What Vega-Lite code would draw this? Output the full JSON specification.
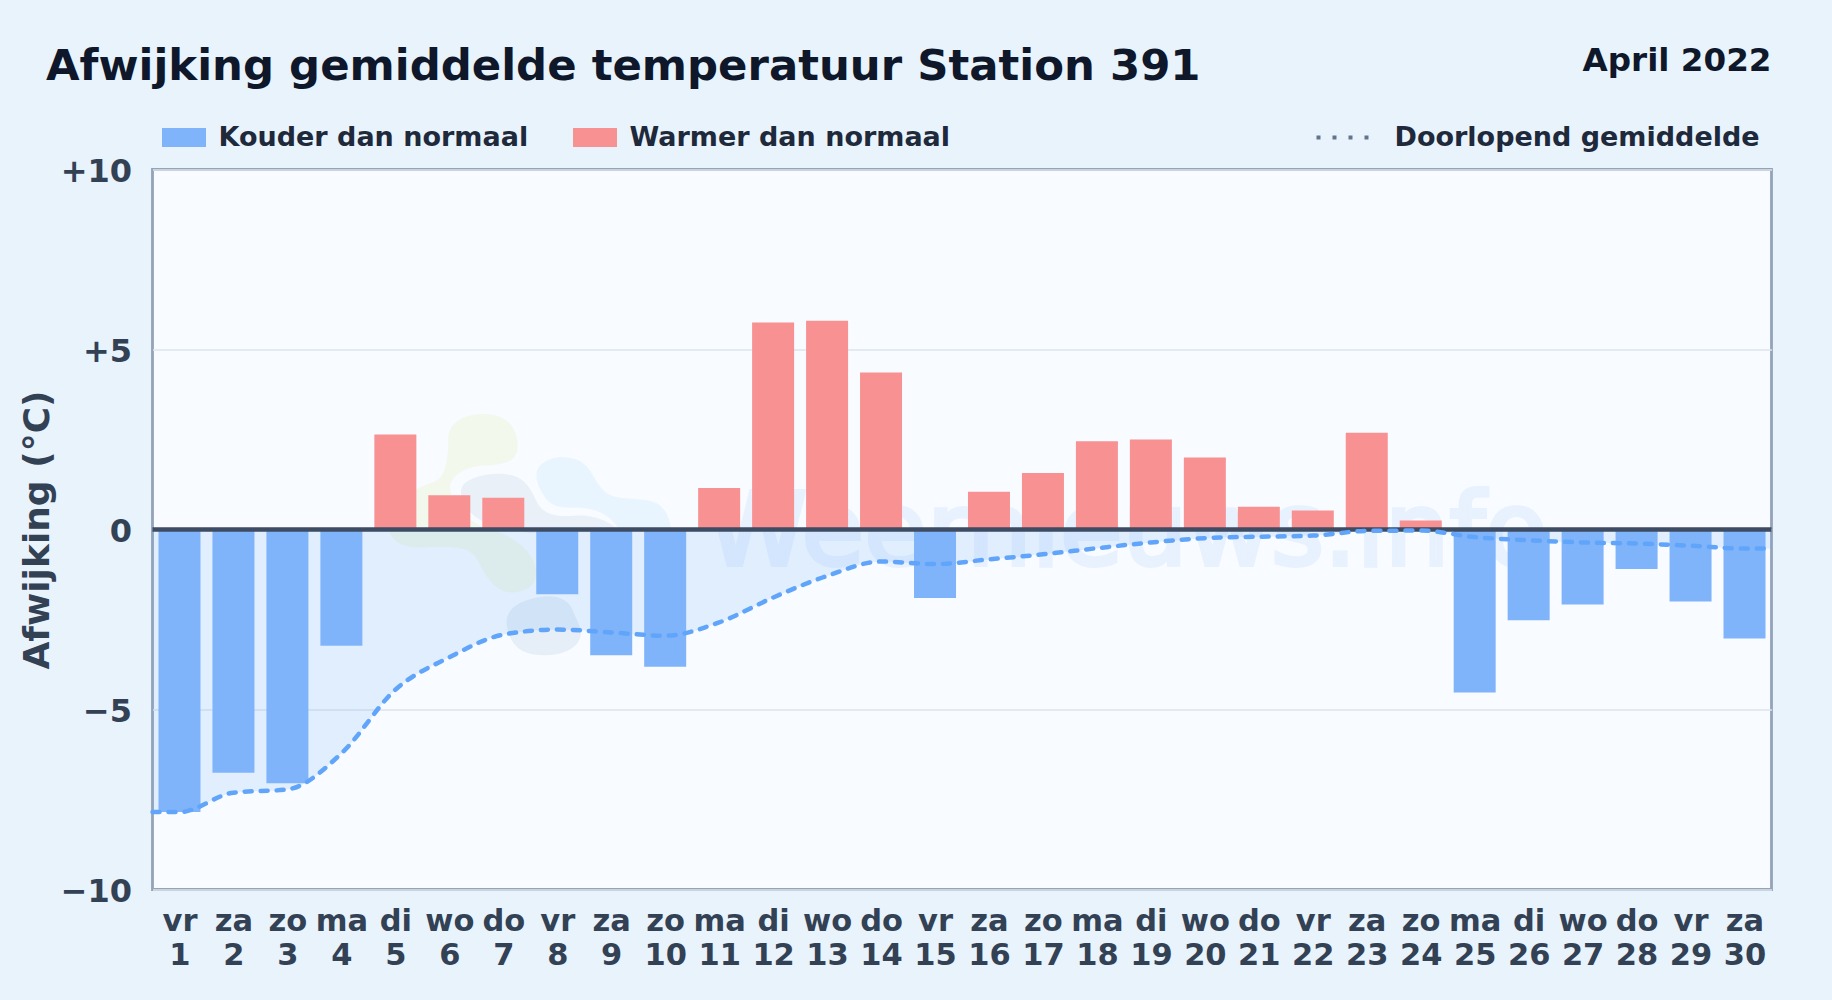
{"$schema":"https://vega.github.io/schema/vega-lite/v6.json","autosize":{"type":"none"},"width":1619,"height":720,"padding":{"left":152.5,"top":169.5,"right":60.5,"bottom":110.5},"background":"#e8f3fc","datasets":{"days":[{"day":1,"dev":-7.85,"kind":"Kouder dan normaal"},{"day":2,"dev":-6.76,"kind":"Kouder dan normaal"},{"day":3,"dev":-7.05,"kind":"Kouder dan normaal"},{"day":4,"dev":-3.23,"kind":"Kouder dan normaal"},{"day":5,"dev":2.64,"kind":"Warmer dan normaal"},{"day":6,"dev":0.95,"kind":"Warmer dan normaal"},{"day":7,"dev":0.88,"kind":"Warmer dan normaal"},{"day":8,"dev":-1.8,"kind":"Kouder dan normaal"},{"day":9,"dev":-3.49,"kind":"Kouder dan normaal"},{"day":10,"dev":-3.81,"kind":"Kouder dan normaal"},{"day":11,"dev":1.15,"kind":"Warmer dan normaal"},{"day":12,"dev":5.75,"kind":"Warmer dan normaal"},{"day":13,"dev":5.8,"kind":"Warmer dan normaal"},{"day":14,"dev":4.36,"kind":"Warmer dan normaal"},{"day":15,"dev":-1.9,"kind":"Kouder dan normaal"},{"day":16,"dev":1.05,"kind":"Warmer dan normaal"},{"day":17,"dev":1.57,"kind":"Warmer dan normaal"},{"day":18,"dev":2.45,"kind":"Warmer dan normaal"},{"day":19,"dev":2.5,"kind":"Warmer dan normaal"},{"day":20,"dev":2.0,"kind":"Warmer dan normaal"},{"day":21,"dev":0.63,"kind":"Warmer dan normaal"},{"day":22,"dev":0.53,"kind":"Warmer dan normaal"},{"day":23,"dev":2.69,"kind":"Warmer dan normaal"},{"day":24,"dev":0.25,"kind":"Warmer dan normaal"},{"day":25,"dev":-4.53,"kind":"Kouder dan normaal"},{"day":26,"dev":-2.52,"kind":"Kouder dan normaal"},{"day":27,"dev":-2.08,"kind":"Kouder dan normaal"},{"day":28,"dev":-1.1,"kind":"Kouder dan normaal"},{"day":29,"dev":-2.0,"kind":"Kouder dan normaal"},{"day":30,"dev":-3.03,"kind":"Kouder dan normaal"}],"running":[{"day":0.5,"mean":-7.85,"series":"Doorlopend gemiddelde"},{"day":1,"mean":-7.85,"series":"Doorlopend gemiddelde"},{"day":2,"mean":-7.31,"series":"Doorlopend gemiddelde"},{"day":3,"mean":-7.22,"series":"Doorlopend gemiddelde"},{"day":4,"mean":-6.22,"series":"Doorlopend gemiddelde"},{"day":5,"mean":-4.45,"series":"Doorlopend gemiddelde"},{"day":6,"mean":-3.55,"series":"Doorlopend gemiddelde"},{"day":7,"mean":-2.92,"series":"Doorlopend gemiddelde"},{"day":8,"mean":-2.78,"series":"Doorlopend gemiddelde"},{"day":9,"mean":-2.86,"series":"Doorlopend gemiddelde"},{"day":10,"mean":-2.95,"series":"Doorlopend gemiddelde"},{"day":11,"mean":-2.58,"series":"Doorlopend gemiddelde"},{"day":12,"mean":-1.89,"series":"Doorlopend gemiddelde"},{"day":13,"mean":-1.29,"series":"Doorlopend gemiddelde"},{"day":14,"mean":-0.89,"series":"Doorlopend gemiddelde"},{"day":15,"mean":-0.96,"series":"Doorlopend gemiddelde"},{"day":16,"mean":-0.83,"series":"Doorlopend gemiddelde"},{"day":17,"mean":-0.69,"series":"Doorlopend gemiddelde"},{"day":18,"mean":-0.52,"series":"Doorlopend gemiddelde"},{"day":19,"mean":-0.36,"series":"Doorlopend gemiddelde"},{"day":20,"mean":-0.24,"series":"Doorlopend gemiddelde"},{"day":21,"mean":-0.2,"series":"Doorlopend gemiddelde"},{"day":22,"mean":-0.17,"series":"Doorlopend gemiddelde"},{"day":23,"mean":-0.04,"series":"Doorlopend gemiddelde"},{"day":24,"mean":-0.03,"series":"Doorlopend gemiddelde"},{"day":25,"mean":-0.21,"series":"Doorlopend gemiddelde"},{"day":26,"mean":-0.3,"series":"Doorlopend gemiddelde"},{"day":27,"mean":-0.36,"series":"Doorlopend gemiddelde"},{"day":28,"mean":-0.39,"series":"Doorlopend gemiddelde"},{"day":29,"mean":-0.45,"series":"Doorlopend gemiddelde"},{"day":30,"mean":-0.53,"series":"Doorlopend gemiddelde"},{"day":30.5,"mean":-0.53,"series":"Doorlopend gemiddelde"}],"logo":[{"day":4.53,"dev":3.74}]},"title":{"text":"Afwijking gemiddelde temperatuur Station 391","anchor":"start","frame":"group","dx":-106.5,"offset":-44.7,"font":"DejaVu Sans","fontSize":43.4,"fontWeight":"bold","color":"#0f172a"},"config":{"font":"DejaVu Sans","view":{"fill":"#f8fbff","stroke":"#94a3b8","strokeWidth":2.8}},"layer":[{"data":{"name":"logo"},"mark":{"type":"point","filled":true,"size":0.4444,"opacity":1,"fill":"#f2f8ec","shape":"M235 130C235 75 300 55 350 58C420 60 445 110 443 160C440 200 400 210 340 212C290 215 245 240 240 275C240 320 290 380 350 400C420 420 490 460 500 530C500 570 470 595 420 592C370 590 340 530 320 490C300 460 260 450 150 458C90 460 50 430 60 390C70 320 130 280 190 262C225 250 235 200 235 130Z"},"encoding":{"x":{"field":"day","type":"quantitative"},"y":{"field":"dev","type":"quantitative"}}},{"data":{"name":"logo"},"mark":{"type":"point","filled":true,"size":0.4444,"opacity":1,"fill":"#e9f0f8","shape":"M280 270C300 245 370 230 420 240C470 250 485 290 500 320C520 360 560 368 620 362C680 360 730 385 745 410L480 415C400 395 330 390 300 350C275 320 265 290 280 270Z"},"encoding":{"x":{"field":"day","type":"quantitative"},"y":{"field":"dev","type":"quantitative"}}},{"data":{"name":"logo"},"mark":{"type":"point","filled":true,"size":0.4444,"opacity":1,"fill":"#e8f4fe","shape":"M500 235C505 195 570 175 620 195C670 215 670 265 710 295C750 320 820 305 860 325C900 350 905 400 900 410L745 400C720 360 680 340 620 338C570 340 540 335 520 300C505 275 498 260 500 235Z"},"encoding":{"x":{"field":"day","type":"quantitative"},"y":{"field":"dev","type":"quantitative"}}},{"data":{"name":"logo"},"mark":{"type":"point","filled":true,"size":0.4444,"opacity":1,"fill":"#e6eef7","shape":"M410 690C405 640 450 615 520 605C570 600 600 620 610 650C620 680 640 700 630 730C615 770 560 785 500 780C450 775 420 750 410 690Z"},"encoding":{"x":{"field":"day","type":"quantitative"},"y":{"field":"dev","type":"quantitative"}}},{"data":{"values":[{"day":18.56,"dev":-0.98,"text":"Weernieuws.info"}]},"mark":{"type":"text","font":"DejaVu Sans","fontWeight":"normal","fontSize":102,"color":"#3b82f6","stroke":"#3b82f6","strokeWidth":4,"opacity":0.08,"align":"center","baseline":"alphabetic"},"encoding":{"x":{"field":"day","type":"quantitative"},"y":{"field":"dev","type":"quantitative"},"text":{"field":"text"}}},{"data":{"name":"running"},"mark":{"type":"area","interpolate":"monotone","fill":"#60a5fa","opacity":0.15},"encoding":{"x":{"field":"day","type":"quantitative"},"y":{"field":"mean","type":"quantitative"},"y2":{"datum":0}}},{"data":{"name":"days"},"mark":{"type":"bar","width":42},"encoding":{"x":{"field":"day","type":"quantitative","scale":{"domain":[0.5,30.5],"nice":false,"zero":false,"padding":0},"axis":{"values":[1,2,3,4,5,6,7,8,9,10,11,12,13,14,15,16,17,18,19,20,21,22,23,24,25,26,27,28,29,30],"title":null,"grid":false,"ticks":false,"domain":false,"labelAngle":0,"labelFontSize":30.5,"labelFontWeight":"bold","labelColor":"#334155","labelPadding":17,"labelOverlap":false,"labelFlush":false,"labelBound":false,"labelLineHeight":34,"labelExpr":"[['do','vr','za','zo','ma','di','wo'][datum.value%7],''+datum.value]"}},"y":{"field":"dev","type":"quantitative","scale":{"domain":[-10,10],"nice":false},"axis":{"values":[-10,-5,0,5,10],"title":"Afwijking (°C)","titleFontSize":36,"titleFontWeight":"bold","titleColor":"#334155","titlePadding":3.5,"grid":true,"gridColor":"#dde5ed","gridWidth":1.5,"ticks":false,"domain":false,"labelFontSize":32,"labelFontWeight":"bold","labelColor":"#334155","labelPadding":21,"labelOffset":1.5,"labelExpr":"datum.value>0?'+'+datum.value:(datum.value<0?'−'+abs(datum.value):'0')"}},"y2":{"datum":0},"color":{"field":"kind","type":"nominal","scale":{"domain":["Kouder dan normaal","Warmer dan normaal"],"range":["#7fb4fb","#f89192"]},"legend":{"title":null,"orient":"none","legendX":8.5,"legendY":-55,"direction":"horizontal","columns":2,"columnPadding":43,"symbolType":"M-1,-0.43H1V0.43H-1Z","symbolSize":1936,"labelFontSize":27,"labelFontWeight":"bold","labelColor":"#1e293b","labelOffset":11.5,"labelLimit":700,"symbolOpacity":1}}}},{"data":{"values":[{"zero":0}]},"mark":{"type":"rule","color":"#3d4b63","strokeWidth":4.4},"encoding":{"y":{"field":"zero","type":"quantitative"}}},{"data":{"name":"running"},"mark":{"type":"line","interpolate":"monotone","stroke":"#60a5fa","strokeWidth":4.5,"strokeDash":[7,9],"strokeCap":"round"},"encoding":{"x":{"field":"day","type":"quantitative"},"y":{"field":"mean","type":"quantitative"},"opacity":{"field":"series","type":"nominal","scale":{"domain":["Doorlopend gemiddelde"],"range":[1]},"legend":{"title":null,"orient":"none","legendX":1162,"legendY":-62,"symbolType":"stroke","symbolSize":3136,"symbolStrokeColor":"#64748b","symbolStrokeWidth":4,"symbolDash":[4,12],"labelFontSize":27,"labelFontWeight":"bold","labelColor":"#1e293b","labelOffset":20,"labelLimit":700}}}},{"data":{"values":[{"day":30.5,"dev":13.02,"text":"April 2022"}]},"mark":{"type":"text","font":"DejaVu Sans","fontWeight":"bold","fontSize":32.6,"color":"#0f172a","align":"right","baseline":"middle"},"encoding":{"x":{"field":"day","type":"quantitative"},"y":{"field":"dev","type":"quantitative"},"text":{"field":"text"}}}]}
